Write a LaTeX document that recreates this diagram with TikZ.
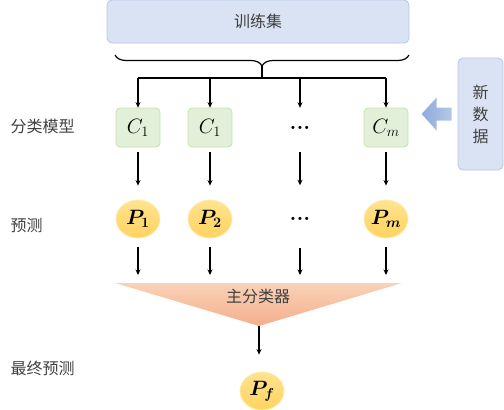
\documentclass[tikz,border=0pt]{standalone}
\usepackage{fontspec}
\usepackage{bm}
\newfontfamily\cjk{Noto Sans CJK SC}
\usetikzlibrary{arrows.meta,positioning,calc,shapes.geometric,decorations.pathreplacing}

\definecolor{setfill}{HTML}{DAE3F3}
\definecolor{setline}{HTML}{B4C7E7}
\definecolor{clsfill}{HTML}{E2F0D9}
\definecolor{clsline}{HTML}{C5E0B4}
\definecolor{predtop}{HTML}{FFE38F}
\definecolor{predbot}{HTML}{FFD35F}
\definecolor{mastertop}{HTML}{F9D2B8}
\definecolor{masterbot}{HTML}{F5AE8B}
\definecolor{newarrow}{HTML}{8FAADC}
\definecolor{labeltext}{HTML}{404040}

\tikzset{
  setbox/.style={draw=setline, fill=setfill, rounded corners=5pt, line width=0.8pt, text=labeltext},
  clsbox/.style={draw=clsline, fill=clsfill, rounded corners=4pt, line width=0.8pt,
    minimum width=44pt, minimum height=39pt, inner sep=0pt, font=\fontsize{20}{22}\selectfont},
  predball/.style={ellipse, draw=predtop!70!white, top color=predtop, bottom color=predbot,
    line width=0.8pt, minimum width=44pt, minimum height=38pt, inner sep=0pt,
    font=\fontsize{20}{22}\selectfont},
  dotsbox/.style={minimum width=44pt, minimum height=39pt, inner sep=0pt,
    font=\normalfont\bfseries\fontsize{22}{22}\selectfont},
  rowlabel/.style={anchor=west, text=labeltext},
  flow/.style={->, line width=1.2pt},
}

\begin{document}
\begin{tikzpicture}[x=1pt, y=-1pt, >={Stealth[length=5.5pt,width=5pt]},
    font=\cjk\fontsize{16}{19}\selectfont]
  \useasboundingbox (0,0) rectangle (504,410);

  % training set and brace
  \node[setbox, minimum width=302pt, minimum height=43pt] (train) at (258,21.5) {训练集};
  \draw[decorate, decoration={brace, mirror, amplitude=11pt}, line width=1.2pt] (115,55) -- (409,55);
  \coordinate (brace) at (262,66);
  \coordinate (bus) at (262,78);

  % classifiers
  \node[clsbox] (c1) at (138,127.5) {\(C_1\)};
  \node[clsbox] (c2) at (210,127.5) {\(C_1\)};
  \node[dotsbox] (cdots) at (300,127.5) {...};
  \node[clsbox] (cm) at (386,127.5) {\(C_m\)};

  \draw[line width=1.2pt] (brace) -- (bus);
  \draw[line width=1.2pt] (c1 |- bus) -- (cm |- bus);
  \foreach \n in {c1,c2,cdots,cm}
    \draw[flow] (\n |- bus) -- (\n.north);

  % new data
  \node[setbox, minimum width=45pt, minimum height=112pt, align=center,
    font=\cjk\fontsize{16}{22}\selectfont] (newdata) at (480.5,114) {新\\数\\据};
  \coordinate (feed) at ($(newdata.west)+(-6,0)$);
  \shade[left color=newarrow, right color=setline] (feed) -- ++(0,-6.5) -- ++(-15,0)
    -- ++(0,-10) -- ++(-15,16.5) -- ++(15,16.5) -- ++(0,-10) -- ++(15,0) -- cycle;

  % predictions
  \node[predball] (p1) at (138,219) {\(\bm{P_1}\)};
  \node[predball] (p2) at (210,219) {\(\bm{P_2}\)};
  \node[dotsbox] (pdots) at (300,219) {...};
  \node[predball] (pm) at (386,219) {\(\bm{P_m}\)};
  \foreach \n/\m in {c1/p1,c2/p2,cdots/pdots,cm/pm}
    \draw[flow, shorten <=5pt, shorten >=14pt] (\n) -- (\m);

  % master classifier
  \coordinate (mleft) at (115,283);
  \coordinate (mright) at (402,283);
  \coordinate (mtip) at (259,326);
  \shade[top color=mastertop, bottom color=masterbot] (mleft) -- (mright) -- (mtip) -- cycle;
  \node[text=labeltext] (master) at (258,296) {主分类器};
  \foreach \m in {p1,p2,pdots,pm}
    \draw[flow, shorten <=9pt, shorten >=8pt] (\m) -- (\m |- mleft);

  % final prediction
  \node[predball] (pf) at (262,391) {\(\bm{P_f}\)};
  \draw[flow, shorten >=17pt] (mtip) -- (mtip |- pf.north);

  % row labels
  \node[rowlabel] (lblcls) at (7,126) {分类模型};
  \node[rowlabel] (lblpred) at (7,225) {预测};
  \node[rowlabel] (lblfinal) at (7,368) {最终预测};
\end{tikzpicture}
\end{document}
